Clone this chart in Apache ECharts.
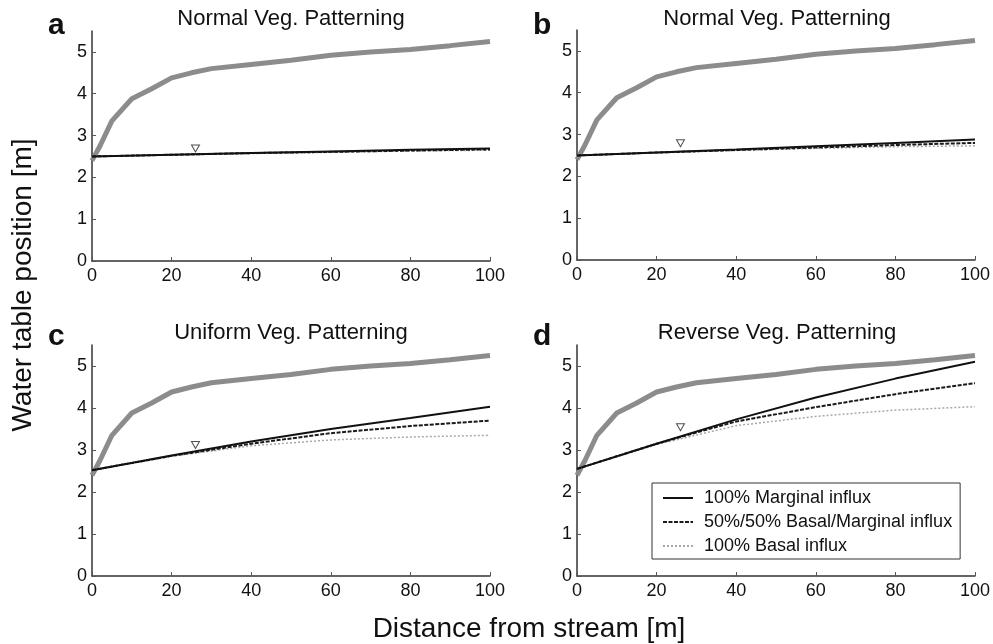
<!DOCTYPE html>
<html>
<head>
<meta charset="utf-8">
<script src="https://cdn.jsdelivr.net/npm/echarts@6/dist/echarts.min.js"></script>
<style>html,body{margin:0;padding:0;background:#fff}#c{width:993px;height:644px}</style>
</head>
<body>
<div id="c"></div>
<script>
// ---- data ----
const panelLetters = ['a', 'b', 'c', 'd'];
const panelTitles = ['Normal Veg. Patterning', 'Normal Veg. Patterning', 'Uniform Veg. Patterning', 'Reverse Veg. Patterning'];
const seriesNames = ['100% Marginal influx', '50%/50% Basal/Marginal influx', '100% Basal influx'];
const xTicks = [0, 20, 40, 60, 80, 100];
const yTicks = [0, 1, 2, 3, 4, 5];

// ground surface (thick grey line), same in all panels
const surfaceX = [0, 2, 5, 10, 15, 20, 25, 30, 40, 50, 60, 70, 80, 90, 100];
const surfaceY = [2.4, 2.75, 3.35, 3.88, 4.12, 4.38, 4.5, 4.6, 4.7, 4.8, 4.92, 5.0, 5.06, 5.15, 5.25];

// water table profiles
const wtX = [0, 20, 40, 60, 80, 100];
const aMarginal = [2.5, 2.54, 2.58, 2.62, 2.66, 2.69];
const aMixed    = [2.5, 2.54, 2.58, 2.61, 2.64, 2.67];
const aBasal    = [2.5, 2.54, 2.57, 2.60, 2.63, 2.65];
const bMarginal = [2.5, 2.57, 2.64, 2.72, 2.80, 2.88];
const bMixed    = [2.5, 2.57, 2.63, 2.69, 2.75, 2.80];
const bBasal    = [2.5, 2.56, 2.62, 2.67, 2.71, 2.73];
const cMarginal = [2.52, 2.87, 3.20, 3.50, 3.76, 4.03];
const cMixed    = [2.52, 2.86, 3.15, 3.40, 3.57, 3.70];
const cBasal    = [2.52, 2.85, 3.10, 3.24, 3.31, 3.35];
const dMarginal = [2.55, 3.15, 3.73, 4.25, 4.70, 5.10];
const dMixed    = [2.55, 3.15, 3.68, 4.02, 4.33, 4.59];
const dBasal    = [2.55, 3.13, 3.58, 3.80, 3.95, 4.03];

// water table symbol (inverted triangle)
const markerX = [26, 26, 26, 26];
const markerY = [2.69, 2.79, 3.12, 3.54];

// ---- layout ----
const FONT = 'Liberation Sans, Arial, sans-serif';
const grids = [
  {left: 92, top: 31, width: 398, height: 230},
  {left: 577, top: 30, width: 400, height: 230},
  {left: 92, top: 345, width: 398, height: 231},
  {left: 577, top: 345, width: 400, height: 231}
];
const panelData = [
  [aMarginal, aMixed, aBasal],
  [bMarginal, bMixed, bBasal],
  [cMarginal, cMixed, cBasal],
  [dMarginal, dMixed, dBasal]
];
const lineStyles = [
  {color: '#111', width: 2, type: 'solid'},
  {color: '#1a1a1a', width: 2, type: [4, 1.5]},
  {color: '#a8a8a8', width: 1.5, type: [2, 2]}
];
const zip = (xs, ys) => xs.map((x, i) => [x, ys[i]]);

const xAxes = [], yAxes = [], series = [], titles = [];
grids.forEach((g, i) => {
  xAxes.push({
    type: 'value', gridIndex: i, min: 0, max: 100, interval: 20,
    axisLine: {lineStyle: {color: '#333', width: 1.5}},
    axisTick: {inside: true, length: 4, lineStyle: {color: '#555'}},
    axisLabel: {color: '#111', fontSize: 18, fontFamily: FONT, margin: 6},
    splitLine: {show: false}
  });
  yAxes.push({
    type: 'value', gridIndex: i, min: 0, max: 5.5, interval: 1,
    axisLine: {show: true, lineStyle: {color: '#333', width: 1.5}},
    axisTick: {show: true, inside: true, length: 4, lineStyle: {color: '#555'}, customValues: yTicks},
    axisLabel: {color: '#111', fontSize: 18, fontFamily: FONT, margin: 5, customValues: yTicks},
    splitLine: {show: false}
  });
  series.push({
    type: 'line', name: 'surface', xAxisIndex: i, yAxisIndex: i,
    data: zip(surfaceX, surfaceY), symbol: 'none',
    lineStyle: {color: '#8c8c8c', width: 5}, z: 2, silent: true
  });
  panelData[i].forEach((ys, k) => {
    series.push({
      type: 'line', name: seriesNames[k], xAxisIndex: i, yAxisIndex: i,
      data: zip(wtX, ys), symbol: 'none', showSymbol: false,
      lineStyle: lineStyles[k], itemStyle: {color: lineStyles[k].color}, z: 5 - k
    });
  });
  series.push({
    type: 'scatter', name: 'wt', xAxisIndex: i, yAxisIndex: i,
    data: [[markerX[i], markerY[i]]],
    symbol: 'path://M0,0 L10,0 L5,9 Z', symbolSize: [8, 7],
    itemStyle: {color: '#fff', borderColor: '#222', borderWidth: 1}, z: 6
  });
  const cx = g.left + g.width / 2;
  titles.push({
    text: panelTitles[i], left: cx, textAlign: 'center', top: i < 2 ? 8 : 322, padding: 0,
    textStyle: {fontSize: 22, fontWeight: 'normal', color: '#111', fontFamily: FONT}
  });
  titles.push({
    text: panelLetters[i], left: i % 2 === 0 ? 48 : 533, top: i < 2 ? 11 : 322, padding: 0,
    textStyle: {fontSize: 30, fontWeight: 'bold', color: '#111', fontFamily: FONT}
  });
});

const chart = echarts.init(document.getElementById('c'), null, {renderer: 'canvas'});
chart.setOption({
  backgroundColor: '#fff',
  animation: false,
  title: titles,
  grid: grids,
  xAxis: xAxes,
  yAxis: yAxes,
  series: series,
  legend: {
    data: seriesNames, orient: 'vertical', left: 652, top: 483,
    padding: [6, 8, 4, 10], itemGap: 6, itemWidth: 30, itemHeight: 14,
    borderColor: '#333', borderWidth: 1, backgroundColor: '#fff',
    itemStyle: {opacity: 0},
    textStyle: {fontSize: 18, fontFamily: FONT, color: '#111', padding: [0, 0, 0, 6]},
    selectedMode: false
  },
  graphic: [
    {type: 'text', x: 23, y: 285, rotation: Math.PI / 2,
     style: {text: 'Water table position [m]', fontSize: 28, fontFamily: FONT, fill: '#111', align: 'center', verticalAlign: 'middle'}},
    {type: 'text', x: 529, y: 629,
     style: {text: 'Distance from stream [m]', fontSize: 28, fontFamily: FONT, fill: '#111', align: 'center', verticalAlign: 'middle'}}
  ]
});
</script>
</body>
</html>
